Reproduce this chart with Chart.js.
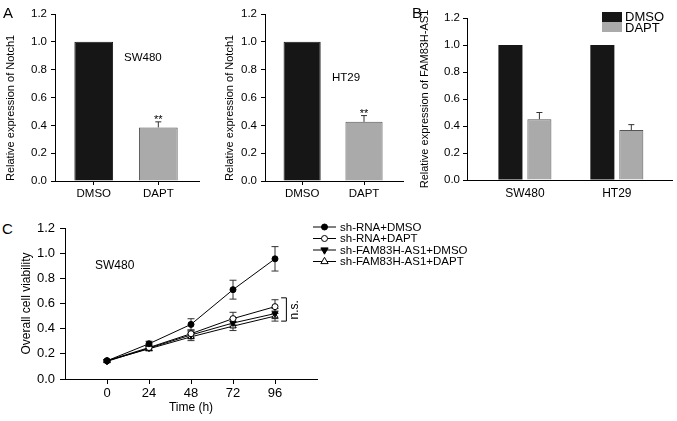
<!DOCTYPE html>
<html>
<head>
<meta charset="utf-8">
<script src="https://cdn.jsdelivr.net/npm/chart.js@4.4.0/dist/chart.umd.min.js"></script>
<style>
body { margin: 0; background: #fff; }
#wrap { position: relative; width: 677px; height: 421px; overflow: hidden; font-family: "Liberation Sans", Arial, sans-serif; }
canvas { position: absolute; }
.lbl { position: absolute; line-height: 1; white-space: nowrap; color: #000; }
.sw { position: absolute; width: 20px; height: 10px; }
</style>
</head>
<body>
<div id="wrap">
  <canvas id="chartA1" width="205" height="205" style="left:0;top:0"></canvas>
  <canvas id="chartA2" width="190" height="205" style="left:219px;top:0"></canvas>
  <canvas id="chartB" width="263" height="205" style="left:414px;top:0"></canvas>
  <canvas id="chartC" width="500" height="216" style="left:15px;top:205px"></canvas>

  <div class="lbl" style="left:3px;top:5px;font-size:15px">A</div>
  <div class="lbl" style="left:412px;top:5px;font-size:15px">B</div>
  <div class="lbl" style="left:2px;top:221px;font-size:15px">C</div>

  <div class="lbl" style="left:124px;top:52px;font-size:11.5px">SW480</div>
  <div class="lbl" style="left:332px;top:72px;font-size:11.5px">HT29</div>
  <div class="lbl" style="left:95px;top:259px;font-size:12px">SW480</div>

  <div class="sw" style="left:602px;top:12px;background:#161616"></div>
  <div class="sw" style="left:602px;top:22px;background:#aaaaaa"></div>
  <div class="lbl" style="left:625px;top:10px;font-size:13px">DMSO</div>
  <div class="lbl" style="left:625px;top:21px;font-size:13px">DAPT</div>
</div>

<script>
const FONT = '"Liberation Sans", Arial, sans-serif';
Chart.defaults.font.family = FONT;
Chart.defaults.color = '#000';

// panel A: Notch1 expression
const barCats = ['DMSO', 'DAPT'];
const notchSW480 = [1.0, 0.385];
const notchSW480Err = [0, 0.04];
const notchHT29 = [1.0, 0.425];
const notchHT29Err = [0, 0.045];
const notchStars = ['', '**'];

// panel B: FAM83H-AS1 expression
const cellLines = ['SW480', 'HT29'];
const famDMSO = [1.0, 1.0];
const famDAPT = [0.45, 0.37];
const famDAPTErr = [0.05, 0.04];

// panel C: viability over time
const hours = [0, 24, 48, 72, 96];
const seriesNames = ['sh-RNA+DMSO', 'sh-RNA+DAPT', 'sh-FAM83H-AS1+DMSO', 'sh-FAM83H-AS1+DAPT'];
const shRnaDmso = [0.145, 0.28, 0.434, 0.71, 0.955];
const shRnaDmsoErr = [0.01, 0.02, 0.045, 0.075, 0.097];
const shRnaDapt = [0.145, 0.25, 0.36, 0.48, 0.575];
const shRnaDaptErr = [0.01, 0.02, 0.03, 0.05, 0.055];
const shFamDmso = [0.14, 0.245, 0.35, 0.445, 0.52];
const shFamDmsoErr = [0.01, 0.02, 0.03, 0.035, 0.04];
const shFamDapt = [0.145, 0.24, 0.335, 0.42, 0.50];
const shFamDaptErr = [0.01, 0.015, 0.03, 0.035, 0.04];

function drawErrors(chart, opts) {
  const ctx = chart.ctx;
  const y = chart.scales.y;
  ctx.save();
  ctx.strokeStyle = '#333';
  ctx.lineWidth = 1;
  chart.data.datasets.forEach((ds, di) => {
    if (!ds.errorValues) return;
    chart.getDatasetMeta(di).data.forEach((el, i) => {
      const e = ds.errorValues[i];
      const v = ds.data[i].y;
      if (e) {
        const top = y.getPixelForValue(v + e);
        const bot = opts.both ? y.getPixelForValue(v - e) : el.y;
        ctx.beginPath();
        ctx.moveTo(el.x, top); ctx.lineTo(el.x, bot);
        ctx.moveTo(el.x - opts.cap, top); ctx.lineTo(el.x + opts.cap, top);
        if (opts.both) { ctx.moveTo(el.x - opts.cap, bot); ctx.lineTo(el.x + opts.cap, bot); }
        ctx.stroke();
      }
      if (ds.marks && ds.marks[i]) {
        ctx.fillStyle = '#000';
        ctx.font = '11px ' + FONT;
        ctx.textAlign = 'center';
        ctx.textBaseline = 'alphabetic';
        ctx.fillText(ds.marks[i], el.x, y.getPixelForValue(v + e) + 1);
      }
    });
  });
  ctx.restore();
}

const errorBars = {
  id: 'errorBars',
  beforeDatasetsDraw(chart, args, opts) { if (opts.under) drawErrors(chart, opts); },
  afterDatasetsDraw(chart, args, opts) { if (!opts.under) drawErrors(chart, opts); }
};

function yAxis(width, title, size, tickLen, pad, titleSize, titleAlign) {
  return {
    min: 0, max: 1.2,
    ticks: { stepSize: 0.2, font: { size: size }, padding: pad, callback: v => v.toFixed(1) },
    grid: { drawOnChartArea: false, drawTicks: true, tickLength: tickLen, color: '#000' },
    border: { display: true, color: '#000' },
    title: { display: true, text: title, align: titleAlign, font: { size: titleSize } },
    afterFit: s => { s.width = width; }
  };
}

// x axis for the bar panels: a linear index axis so the bar spacing can follow the figure
function xIndex(labels, min, max, height, size, tickColor) {
  return {
    type: 'linear', min: min, max: max, offset: false,
    afterBuildTicks: s => { s.ticks = labels.map((l, i) => ({ value: i })); },
    grid: { drawOnChartArea: false, drawTicks: true, tickLength: 4, color: tickColor, offset: false },
    border: { display: true, color: '#000' },
    ticks: { font: { size: size }, padding: 2, maxRotation: 0, callback: v => labels[v] },
    afterFit: s => { s.height = height; }
  };
}

function notchChart(id, values, errs, yWidth) {
  new Chart(document.getElementById(id), {
    type: 'bar',
    data: {
      datasets: [{
        data: values.map((v, i) => ({ x: i, y: v })), errorValues: errs, marks: notchStars,
        backgroundColor: ['#161616', '#aaaaaa'],
        borderColor: ['#161616', '#555555'],
        borderWidth: 1, categoryPercentage: 0.6, barPercentage: 1
      }]
    },
    options: {
      responsive: false, animation: false,
      layout: { padding: { top: 14, right: 6, bottom: 0, left: 0 } },
      plugins: { legend: { display: false }, tooltip: { enabled: false }, errorBars: { cap: 3 } },
      scales: {
        x: xIndex(barCats, -0.6, 1.63, 24, 11.5, '#000'),
        y: yAxis(yWidth, 'Relative expression of Notch1', 11.5, 4, 4, 11, 'start')
      }
    },
    plugins: [errorBars]
  });
}

notchChart('chartA1', notchSW480, notchSW480Err, 55);
notchChart('chartA2', notchHT29, notchHT29Err, 46);

new Chart(document.getElementById('chartB'), {
  type: 'bar',
  data: {
    datasets: [
      { label: 'DMSO', data: famDMSO.map((v, i) => ({ x: i, y: v })), backgroundColor: '#161616',
        categoryPercentage: 0.63, barPercentage: 0.83 },
      { label: 'DAPT', data: famDAPT.map((v, i) => ({ x: i, y: v })), errorValues: famDAPTErr,
        backgroundColor: '#aaaaaa', borderColor: '#555555', borderWidth: 1,
        categoryPercentage: 0.63, barPercentage: 0.83 }
    ]
  },
  options: {
    responsive: false, animation: false,
    layout: { padding: { top: 18, right: 5, bottom: 0, left: 0 } },
    plugins: { legend: { display: false }, tooltip: { enabled: false }, errorBars: { cap: 3 } },
    scales: {
      x: xIndex(cellLines, -0.63, 1.6, 25, 12, 'rgba(0,0,0,0)'),
      y: yAxis(53, 'Relative expression of FAM83H-AS1', 11.5, 4, 3, 11, 'center')
    }
  },
  plugins: [errorBars]
});

// legend, bracket and n.s. for panel C
const panelCExtras = {
  id: 'panelCExtras',
  afterDraw(chart, args, opts) {
    const ctx = chart.ctx;
    const xs = chart.scales.x, ys = chart.scales.y;
    ctx.save();
    ctx.strokeStyle = '#000';
    ctx.lineWidth = 1;
    // bracket
    const bx0 = xs.getPixelForValue(opts.bracket.x0), bx1 = xs.getPixelForValue(opts.bracket.x1);
    const by0 = ys.getPixelForValue(opts.bracket.y0), by1 = ys.getPixelForValue(opts.bracket.y1);
    ctx.beginPath();
    ctx.moveTo(bx0, by1); ctx.lineTo(bx1, by1); ctx.lineTo(bx1, by0); ctx.lineTo(bx0, by0);
    ctx.stroke();
    ctx.save();
    ctx.translate(xs.getPixelForValue(opts.ns.x), ys.getPixelForValue(opts.ns.y));
    ctx.rotate(-Math.PI / 2);
    ctx.font = '12px ' + FONT;
    ctx.fillStyle = '#000';
    ctx.textAlign = 'center';
    ctx.textBaseline = 'middle';
    ctx.fillText('n.s.', 0, 0);
    ctx.restore();
    // legend
    chart.data.datasets.forEach((ds, i) => {
      const y = opts.legend.y + i * opts.legend.gap;
      const x0 = opts.legend.x;
      ctx.beginPath();
      ctx.moveTo(x0, y); ctx.lineTo(x0 + 23, y);
      ctx.stroke();
      drawMarker(ctx, ds.pointStyle, ds.pointRotation, x0 + 11.5, y, ds.pointRadius, ds.pointBackgroundColor);
      ctx.fillStyle = '#000';
      ctx.font = '11.5px ' + FONT;
      ctx.textAlign = 'left';
      ctx.textBaseline = 'middle';
      ctx.fillText(ds.label, x0 + 27, y + 0.5);
    });
    ctx.restore();
  }
};

function drawMarker(ctx, style, rot, x, y, r, fill) {
  ctx.beginPath();
  if (style === 'circle') {
    ctx.arc(x, y, r, 0, Math.PI * 2);
  } else {
    const s = rot === 180 ? -1 : 1;
    const rr = r * 1.2;
    ctx.moveTo(x, y - s * rr);
    ctx.lineTo(x + rr * 0.866, y + s * rr * 0.5);
    ctx.lineTo(x - rr * 0.866, y + s * rr * 0.5);
    ctx.closePath();
  }
  ctx.fillStyle = fill;
  ctx.fill();
  ctx.stroke();
}

function lineSet(i, values, errs, style, rot, fill) {
  return {
    label: seriesNames[i],
    data: hours.map((h, k) => ({ x: h, y: values[k] })),
    errorValues: errs,
    borderColor: '#000', borderWidth: 1, tension: 0, fill: false,
    pointStyle: style, pointRotation: rot, pointRadius: style === 'circle' ? 3 : 3.5,
    pointBackgroundColor: fill, pointBorderColor: '#000', pointBorderWidth: 1
  };
}

new Chart(document.getElementById('chartC'), {
  type: 'line',
  data: {
    datasets: [
      lineSet(0, shRnaDmso, shRnaDmsoErr, 'circle', 0, '#000'),
      lineSet(1, shRnaDapt, shRnaDaptErr, 'circle', 0, '#fff'),
      lineSet(2, shFamDmso, shFamDmsoErr, 'triangle', 180, '#000'),
      lineSet(3, shFamDapt, shFamDaptErr, 'triangle', 0, '#fff')
    ]
  },
  options: {
    responsive: false, animation: false,
    layout: { padding: { top: 23, right: 198, bottom: 2, left: 0 } },
    plugins: {
      legend: { display: false }, tooltip: { enabled: false },
      errorBars: { cap: 3.5, both: true, under: true },
      panelCExtras: {
        bracket: { x0: 99.5, x1: 102.5, y0: 0.46, y1: 0.645 },
        ns: { x: 107, y: 0.55 },
        legend: { x: 298, y: 22, gap: 11.5 }
      }
    },
    scales: {
      x: {
        type: 'linear', min: -24, max: 120,
        afterBuildTicks: s => { s.ticks = hours.map(h => ({ value: h })); },
        ticks: { font: { size: 13 }, padding: 2 },
        grid: { drawOnChartArea: false, drawTicks: true, tickLength: 5, color: '#000' },
        border: { display: true, color: '#000' },
        title: { display: true, text: 'Time (h)', font: { size: 12 }, padding: { top: 0, bottom: 4 } },
        afterFit: s => { s.height = 40; }
      },
      y: yAxis(50, 'Overall cell viability', 13, 5, 5, 12, 'center')
    }
  },
  plugins: [errorBars, panelCExtras]
});
</script>
</body>
</html>
